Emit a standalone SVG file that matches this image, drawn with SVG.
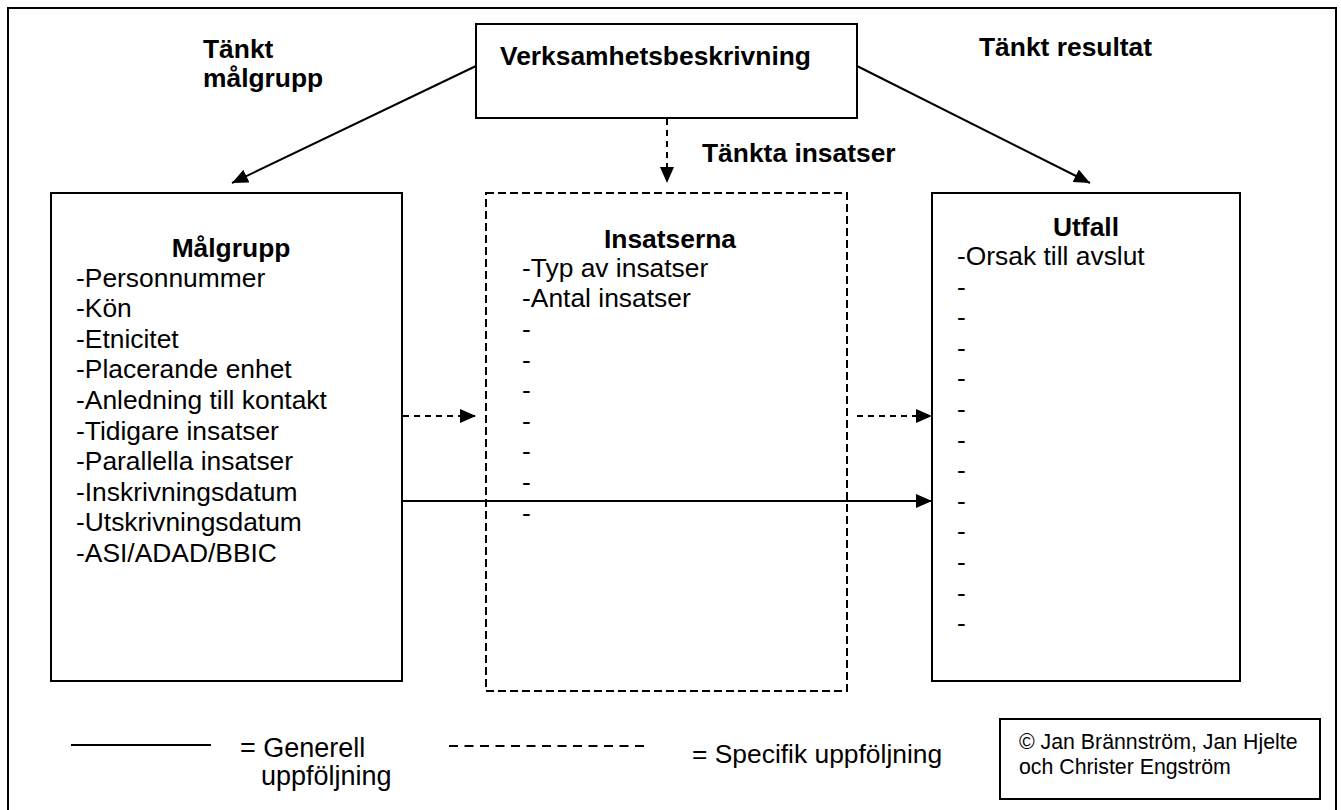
<svg xmlns="http://www.w3.org/2000/svg" width="1341" height="810" viewBox="0 0 1341 810">
<style>
text{font-family:"Liberation Sans",Arial,sans-serif;fill:#000}
.h{font-weight:bold;font-size:26.4px}
.t{font-size:26.4px}
.box{fill:#fff;stroke:#000;stroke-width:2}
.dbox{fill:none;stroke:#000;stroke-width:2;stroke-dasharray:8,4}
.ln{stroke:#000;stroke-width:2;fill:none}
.dl{stroke:#000;stroke-width:2;fill:none;stroke-dasharray:6,5}
.lg{font-size:27px}
.lg2{font-size:26.4px}
.cp{font-size:21.3px}
</style>
<defs>
<marker id="ah" markerUnits="userSpaceOnUse" markerWidth="16" markerHeight="14" refX="16" refY="7" orient="auto">
<path d="M0,0 L16,7 L0,14 z" fill="#000"/>
</marker>
</defs>
<rect width="1341" height="810" fill="#fff"/>
<rect id="frame" x="8" y="8" width="1328" height="820" fill="none" stroke="#000" stroke-width="2"/>

<g id="label-tankt-malgrupp">
<text class="h" x="203" y="58">Tänkt</text>
<text class="h" x="203" y="87">målgrupp</text>
</g>
<g id="label-tankt-resultat"><text class="h" x="979" y="56">Tänkt resultat</text></g>
<g id="label-tankta-insatser"><text class="h" x="702" y="162">Tänkta insatser</text></g>

<g id="verksamhet">
<rect class="box" x="476" y="24" width="381" height="94"/>
<text class="h" x="500" y="65">Verksamhetsbeskrivning</text>
</g>

<g id="malgrupp">
<rect class="box" x="51" y="193" width="351" height="488"/>
<text class="h" x="231" y="257" text-anchor="middle">Målgrupp</text>
<text class="t" x="76" y="286.5">-Personnummer</text>
<text class="t" x="76" y="317.1">-Kön</text>
<text class="t" x="76" y="347.7">-Etnicitet</text>
<text class="t" x="76" y="378.3">-Placerande enhet</text>
<text class="t" x="76" y="408.9">-Anledning till kontakt</text>
<text class="t" x="76" y="439.5">-Tidigare insatser</text>
<text class="t" x="76" y="470.1">-Parallella insatser</text>
<text class="t" x="76" y="500.7">-Inskrivningsdatum</text>
<text class="t" x="76" y="531.3">-Utskrivningsdatum</text>
<text class="t" x="76" y="561.9">-ASI/ADAD/BBIC</text>
</g>

<g id="insatserna">
<rect class="dbox" x="486" y="193" width="361" height="498"/>
<text class="h" x="670" y="248" text-anchor="middle">Insatserna</text>
<text class="t" x="522" y="277">-Typ av insatser</text>
<text class="t" x="522" y="307">-Antal insatser</text>
<text class="t" x="522" y="338">-</text>
<text class="t" x="522" y="368.6">-</text>
<text class="t" x="522" y="399.2">-</text>
<text class="t" x="522" y="429.8">-</text>
<text class="t" x="522" y="460.4">-</text>
<text class="t" x="522" y="491">-</text>
<text class="t" x="522" y="521.6">-</text>
</g>

<g id="utfall">
<rect class="box" x="932" y="193" width="308" height="488"/>
<text class="h" x="1086" y="236" text-anchor="middle">Utfall</text>
<text class="t" x="957" y="265">-Orsak till avslut</text>
<text class="t" x="957" y="295.6">-</text>
<text class="t" x="957" y="326.2">-</text>
<text class="t" x="957" y="356.8">-</text>
<text class="t" x="957" y="387.4">-</text>
<text class="t" x="957" y="418">-</text>
<text class="t" x="957" y="448.6">-</text>
<text class="t" x="957" y="479.2">-</text>
<text class="t" x="957" y="509.8">-</text>
<text class="t" x="957" y="540.4">-</text>
<text class="t" x="957" y="571">-</text>
<text class="t" x="957" y="601.6">-</text>
<text class="t" x="957" y="632.2">-</text>
</g>

<g id="connectors">
<line class="ln" x1="476" y1="66" x2="232" y2="183" marker-end="url(#ah)"/>
<line class="ln" x1="857" y1="66" x2="1090" y2="183" marker-end="url(#ah)"/>
<line class="dl" x1="667" y1="119" x2="667" y2="183" marker-end="url(#ah)"/>
<line class="dl" x1="403" y1="416" x2="476" y2="416" marker-end="url(#ah)"/>
<line class="dl" x1="857" y1="416" x2="932" y2="416" marker-end="url(#ah)"/>
<line class="ln" x1="403" y1="501" x2="932" y2="501" marker-end="url(#ah)"/>
</g>

<g id="legend">
<line class="ln" x1="71" y1="745" x2="211" y2="745"/>
<text class="lg" x="240" y="757">= Generell</text>
<text class="lg" x="261" y="785">uppföljning</text>
<line x1="449" y1="746" x2="650" y2="746" stroke="#000" stroke-width="2" stroke-dasharray="9,6.5"/>
<text class="lg2" x="692" y="763">= Specifik uppföljning</text>
</g>

<g id="copyright">
<rect class="box" x="1000" y="719" width="320" height="80"/>
<text class="cp" x="1019" y="749">© Jan Brännström, Jan Hjelte</text>
<text class="cp" x="1019" y="774">och Christer Engström</text>
</g>
</svg>
